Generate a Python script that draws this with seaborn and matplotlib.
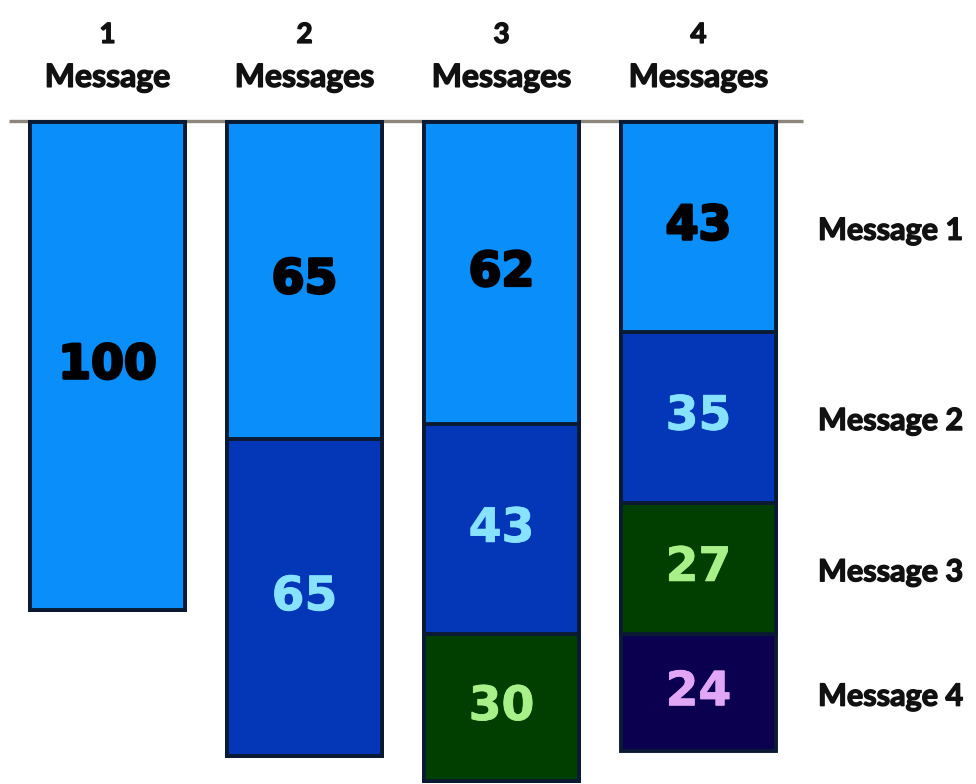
import numpy as np
import matplotlib
matplotlib.use("Agg")
import matplotlib.pyplot as plt
import matplotlib.patheffects as pe
import seaborn as sns

# Column counts and the wording of their headers
counts = ["1", "2", "3", "4"]
count_words = ["Message", "Messages", "Messages", "Messages"]

# Share of responses for each message position, per campaign length
message_1 = [100, 65, 62, 43]
message_2 = [0, 65, 43, 35]
message_3 = [0, 0, 30, 27]
message_4 = [0, 0, 0, 24]
series_names = ["Message 1", "Message 2", "Message 3", "Message 4"]

fill_colors = ["#0A8EFA", "#0437B8", "#003F00", "#0B0050"]
label_colors = ["#000000", "#86E2FF", "#A8F088", "#E2A6F6"]
edge_color = "#0B1A33"
ink = "#111111"

sns.set_theme(style="white")
plt.rcParams["font.family"] = ["DejaVu Sans"]

fig = plt.figure(figsize=(9.76, 7.84), dpi=100)
ax = fig.add_axes([0, 0, 1, 1])

series = np.array([message_1, message_2, message_3, message_4], dtype=float)
cumulative = np.cumsum(series, axis=0)
categories = [f"{c} {w}" for c, w in zip(counts, count_words)]

# Draw the deepest cumulative layer first so each upper segment paints over it
for k in range(len(series) - 1, -1, -1):
    sns.barplot(x=categories, y=cumulative[k], color=fill_colors[k],
                width=0.787, edgecolor=edge_color, linewidth=2.8,
                saturation=1, ax=ax, zorder=2 + (len(series) - k))

ax.set_xlim(-0.546, 4.409)
ax.set_ylim(135.7, -25)
ax.axis("off")

# Baseline the bars hang from
ax.plot([-0.50, 3.53], [-0.2, -0.2], color="#8C867C", lw=2.4, zorder=1,
        solid_capstyle="butt")

# Segment value labels
for k in range(len(series)):
    for i in range(len(categories)):
        v = series[k, i]
        if v <= 0:
            continue
        mid = cumulative[k, i] - v / 2
        stroke = 2.0 if k == 0 else 0.6
        ax.text(i, mid, f"{int(v)}", ha="center", va="center",
                fontsize=34, fontweight="bold", color=label_colors[k],
                path_effects=[pe.withStroke(linewidth=stroke,
                                            foreground=label_colors[k])],
                zorder=10)

heavy = [pe.withStroke(linewidth=1.0, foreground=ink)]

# Column headers
for i, (c, w) in enumerate(zip(counts, count_words)):
    ax.text(i, -16.2, c, ha="center", va="baseline", fontsize=20,
            fontweight="bold", family="Lato", color=ink, path_effects=heavy)
    ax.text(i, -7.2, w, ha="center", va="baseline", fontsize=23,
            fontweight="bold", family="Lato", color=ink, path_effects=heavy)

# Series names beside the last column
last = len(categories) - 1
for k in range(len(series)):
    mid = cumulative[k, last] - series[k, last] / 2
    ax.text(3.607, mid + 0.8, series_names[k], ha="left", va="center",
            fontsize=22, fontweight="bold", family="Lato", color=ink,
            path_effects=heavy)

fig.savefig("out.png", dpi=100)
